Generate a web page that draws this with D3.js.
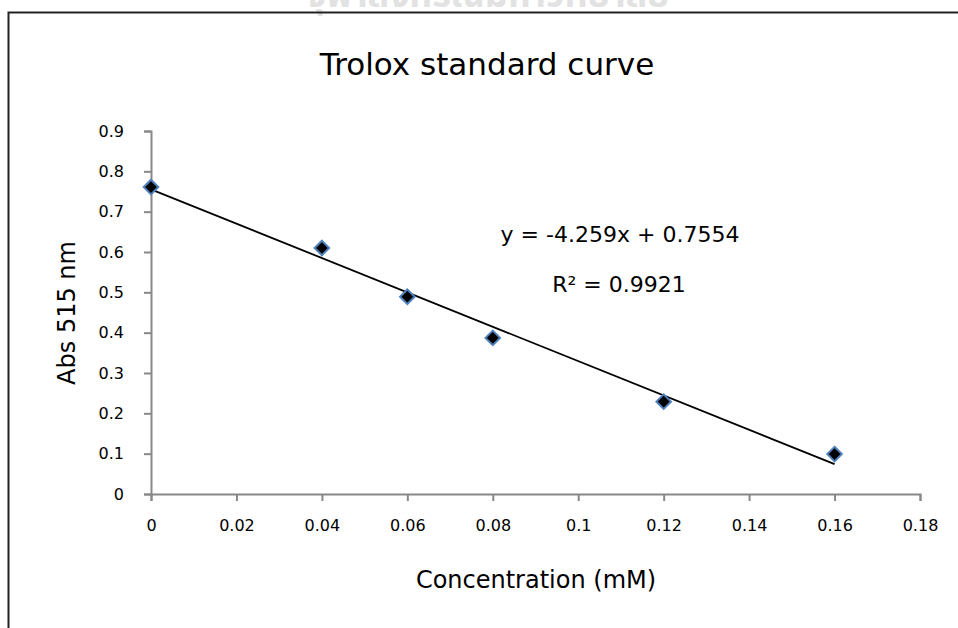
<!DOCTYPE html>
<html>
<head>
<meta charset="utf-8">
<script src="https://cdn.jsdelivr.net/npm/d3@7/dist/d3.min.js"></script>
<style>
  body { margin: 0; background: #fff; }
  svg { display: block; }
</style>
</head>
<body>
<svg id="chart" width="958" height="628"></svg>
<script>
// Data
const concentration = [0, 0.04, 0.06, 0.08, 0.12, 0.16];
const absorbance = [0.761, 0.61, 0.489, 0.387, 0.229, 0.099];
const xTicks = [0, 0.02, 0.04, 0.06, 0.08, 0.1, 0.12, 0.14, 0.16, 0.18];
const yTicks = [0, 0.1, 0.2, 0.3, 0.4, 0.5, 0.6, 0.7, 0.8, 0.9];
const slope = -4.259;
const intercept = 0.7554;
const rSquared = 0.9921;

const font = "'DejaVu Sans', 'Noto Sans', sans-serif";
const svg = d3.select("#chart");

const x = d3.scaleLinear().domain([0, 0.18]).range([151, 920]);
const y = d3.scaleLinear().domain([0, 0.9]).range([494, 131]);

// Watermark, cut off at the top of the page
svg.append("text")
  .attr("x", 488)
  .attr("y", 7)
  .attr("text-anchor", "middle")
  .attr("font-family", "'Noto Sans Thai', 'Noto Sans', 'DejaVu Sans', sans-serif")
  .attr("font-size", "36px")
  .attr("font-weight", "bold")
  .attr("fill", "#e2e2e2")
  .text("จุฬาลงกรณ์มหาวิทยาลัย");

// Chart frame (right and bottom edges run off the page)
svg.append("path")
  .attr("d", "M8.5,640 V12.5 H970")
  .attr("fill", "none")
  .attr("stroke", "#222")
  .attr("stroke-width", 2);

// Title
svg.append("text")
  .attr("x", 487)
  .attr("y", 75)
  .attr("text-anchor", "middle")
  .attr("font-family", font)
  .attr("font-size", "31px")
  .attr("fill", "#000")
  .text("Trolox standard curve");

// Axes
const xAxis = svg.append("g")
  .attr("transform", `translate(0,${y(0)})`)
  .call(d3.axisBottom(x).tickValues(xTicks).tickSize(7).tickPadding(19)
    .tickFormat((d) => d3.format("")(+d.toFixed(2))));

const yAxis = svg.append("g")
  .attr("transform", `translate(${x(0)},0)`)
  .call(d3.axisLeft(y).tickValues(yTicks).tickSize(7).tickPadding(20)
    .tickFormat((d) => d3.format("")(+d.toFixed(1))));

[xAxis, yAxis].forEach((ax) => {
  ax.select(".domain").attr("stroke", "#888").attr("stroke-width", 2);
  ax.selectAll(".tick line").attr("stroke", "#888").attr("stroke-width", 2);
  ax.selectAll(".tick text")
    .attr("fill", "#000")
    .attr("font-family", font)
    .attr("font-size", "16px");
});

// Axis titles
svg.append("text")
  .attr("x", 536)
  .attr("y", 588)
  .attr("text-anchor", "middle")
  .attr("font-family", font)
  .attr("font-size", "24px")
  .attr("fill", "#000")
  .text("Concentration (mM)");

svg.append("text")
  .attr("transform", "translate(75,313) rotate(-90)")
  .attr("text-anchor", "middle")
  .attr("font-family", font)
  .attr("font-size", "24px")
  .attr("fill", "#000")
  .text("Abs 515 nm");

// Linear trendline from the reported fit
const xExtent = d3.extent(concentration);
svg.append("line")
  .attr("x1", x(xExtent[0]))
  .attr("y1", y(intercept + slope * xExtent[0]))
  .attr("x2", x(xExtent[1]))
  .attr("y2", y(intercept + slope * xExtent[1]))
  .attr("stroke", "#000")
  .attr("stroke-width", 1.8);

// Data points as diamonds
const diamond = d3.symbol().type(d3.symbolDiamond2).size(135);
svg.append("g")
  .selectAll("path")
  .data(concentration.map((c, i) => ({ c, a: absorbance[i] })))
  .join("path")
  .attr("d", diamond)
  .attr("transform", (d) => `translate(${x(d.c)},${y(d.a)})`)
  .attr("fill", "#000")
  .attr("stroke", "#4f81bd")
  .attr("stroke-width", 2);

// Fit equation
svg.append("text")
  .attr("x", 620)
  .attr("y", 242)
  .attr("text-anchor", "middle")
  .attr("font-family", font)
  .attr("font-size", "22px")
  .attr("fill", "#000")
  .text(`y = ${slope}x + ${intercept}`);

svg.append("text")
  .attr("x", 619)
  .attr("y", 292)
  .attr("text-anchor", "middle")
  .attr("font-family", font)
  .attr("font-size", "22px")
  .attr("fill", "#000")
  .text(`R² = ${rSquared}`);
</script>
</body>
</html>
